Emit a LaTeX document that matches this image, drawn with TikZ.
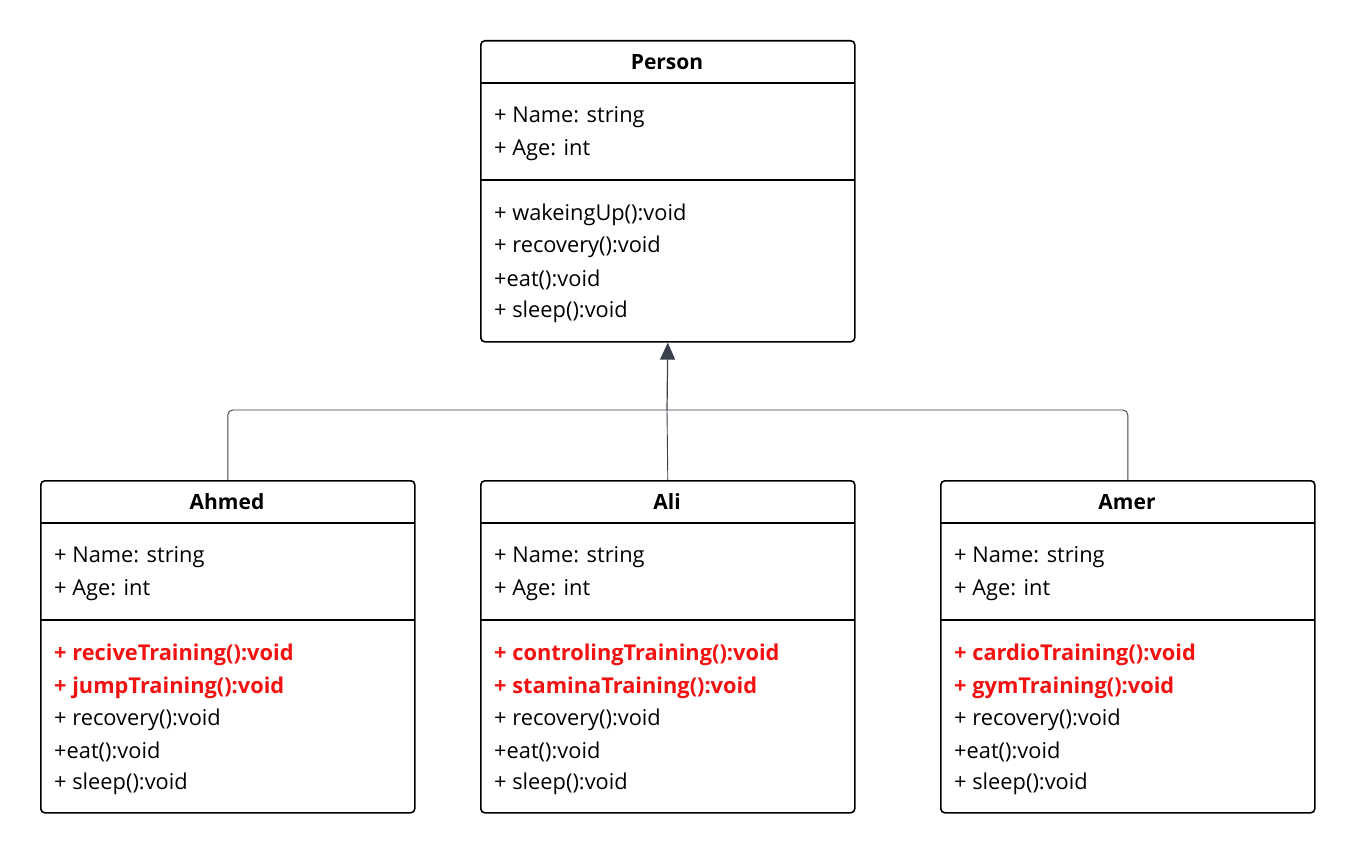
\documentclass[tikz,border=0pt]{standalone}
\usepackage{fontspec}
\setmainfont{Open Sans}
\usetikzlibrary{arrows.meta}
\definecolor{conncol}{HTML}{3A414B}
\definecolor{redtxt}{HTML}{F21212}
\tikzset{
  classbox/.style={draw=black, line width=1.6pt, rounded corners=4pt, minimum width=374pt, inner sep=0pt, anchor=north west},
  divider/.style={draw=black, line width=1.6pt},
  title/.style={font=\fontsize{21}{24}\selectfont\bfseries, anchor=center, inner sep=0pt},
  member/.style={font=\fontsize{21.8}{24}\selectfont, anchor=west, inner sep=0pt, yshift=-2.5pt},
  redmember/.style={member, font=\fontsize{21.8}{24}\selectfont\bfseries, text=redtxt},
  conn/.style={draw=conncol, line width=0.9pt, rounded corners=5pt},
  arrowconn/.style={draw=conncol, line width=1.2pt, -{Triangle[length=17pt,width=15pt]}}
}
\begin{document}
\begin{tikzpicture}[x=1pt,y=-1pt]
\useasboundingbox (0,0) rectangle (1354,853);
% Person
\node[classbox, minimum height=301pt] (person) at (480,40) {};
\draw[divider] (480,83) -- (854,83);
\draw[divider] (480,180) -- (854,180);
\node[title] (pt) at (667,62) {Person};
\node[member] (p1) at (494,115) {+ Name: string};
\node[member] (p2) at (494,148) {+ Age: int};
\node[member] (p3) at (494,212) {+ wakeingUp():void};
\node[member] (p4) at (494,244) {+ recovery():void};
\node[member] (p5) at (494,277) {+eat():void};
\node[member] (p6) at (494,309) {+ sleep():void};
% Ahmed
\node[classbox, minimum height=332pt] (ahmed) at (40,480) {};
\draw[divider] (40,523) -- (414,523);
\draw[divider] (40,620) -- (414,620);
\node[title] (aht) at (227,502) {Ahmed};
\node[member] (ah1) at (54,555) {+ Name: string};
\node[member] (ah2) at (54,588) {+ Age: int};
\node[redmember] (ah3) at (54,652) {+ reciveTraining():void};
\node[redmember] (ah4) at (54,685) {+ jumpTraining():void};
\node[member] (ah5) at (54,717) {+ recovery():void};
\node[member] (ah6) at (54,749) {+eat():void};
\node[member] (ah7) at (54,781) {+ sleep():void};
% Ali
\node[classbox, minimum height=332pt] (ali) at (480,480) {};
\draw[divider] (480,523) -- (854,523);
\draw[divider] (480,620) -- (854,620);
\node[title] (alt) at (667,502) {Ali};
\node[member] (al1) at (494,555) {+ Name: string};
\node[member] (al2) at (494,588) {+ Age: int};
\node[redmember] (al3) at (494,652) {+ controlingTraining():void};
\node[redmember] (al4) at (494,685) {+ staminaTraining():void};
\node[member] (al5) at (494,717) {+ recovery():void};
\node[member] (al6) at (494,749) {+eat():void};
\node[member] (al7) at (494,781) {+ sleep():void};
% Amer
\node[classbox, minimum height=332pt] (amer) at (940,480) {};
\draw[divider] (940,523) -- (1314,523);
\draw[divider] (940,620) -- (1314,620);
\node[title] (amt) at (1127,502) {Amer};
\node[member] (am1) at (954,555) {+ Name: string};
\node[member] (am2) at (954,588) {+ Age: int};
\node[redmember] (am3) at (954,652) {+ cardioTraining():void};
\node[redmember] (am4) at (954,685) {+ gymTraining():void};
\node[member] (am5) at (954,717) {+ recovery():void};
\node[member] (am6) at (954,749) {+eat():void};
\node[member] (am7) at (954,781) {+ sleep():void};
% connectors
\coordinate (j) at (667,410);
\draw[conn] (ahmed.north) |- (j);
\draw[conn] (amer.north) |- (j);
\draw[conn] (ali.north) -- (j);
\draw[arrowconn] (j) -- (person.south);
\end{tikzpicture}
\end{document}
